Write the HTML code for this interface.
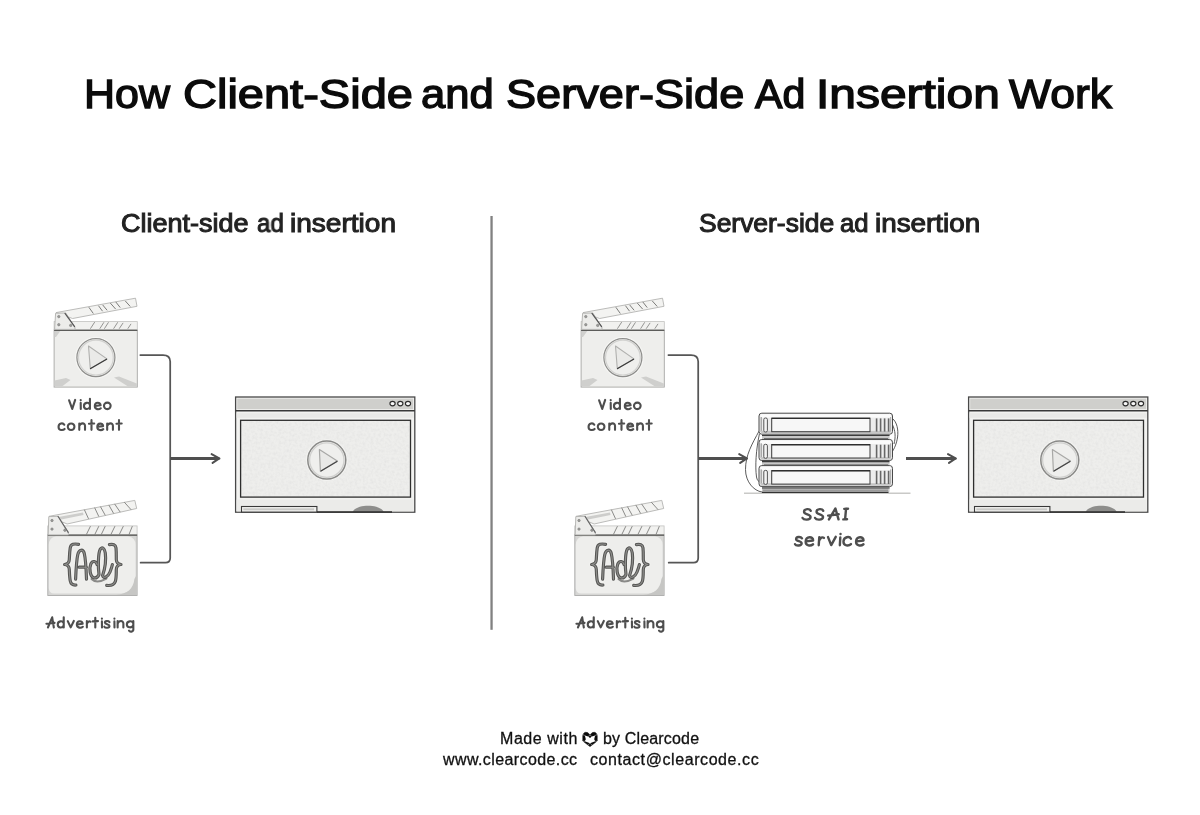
<!DOCTYPE html>
<html>
<head>
<meta charset="utf-8">
<style>
html,body{margin:0;padding:0;background:#fff;}
body{width:1200px;height:815px;position:relative;overflow:hidden;font-family:"Liberation Sans",sans-serif;}
.t{position:absolute;white-space:nowrap;line-height:1;will-change:transform;}
.tw{top:73.8px;font-size:40.5px;font-weight:400;color:#0b0b0b;-webkit-text-stroke:1.35px #0b0b0b;transform-origin:0 0;}
.sub{font-size:25px;font-weight:400;color:#222;-webkit-text-stroke:1.0px #222;top:211px;transform-origin:0 0;}
.ft{font-size:16px;color:#111;-webkit-text-stroke:0.3px #111;}
svg{position:absolute;left:0;top:0;}
</style>
</head>
<body>
<svg width="1200" height="815" viewBox="0 0 1200 815">
<defs>
  <filter id="noise" x="0" y="0" width="100%" height="100%">
    <feTurbulence type="fractalNoise" baseFrequency="0.38" numOctaves="2" seed="3" result="n"/>
    <feColorMatrix in="n" type="matrix" values="0 0 0 0 0.78  0 0 0 0 0.78  0 0 0 0 0.77  1.8 0 0 0 -0.66" result="a"/>
    <feComposite in="a" in2="SourceGraphic" operator="in" result="m"/>
    <feMerge><feMergeNode in="SourceGraphic"/><feMergeNode in="m"/></feMerge>
  </filter>

  <!-- ===== clapper: video ===== -->
  <g id="clapV">
    <!-- body -->
    <rect x="54.1" y="330" width="83.2" height="57.1" fill="#eeeeec" stroke="#a6a6a4" stroke-width="0.9"/>
    <!-- smudges -->
    <path d="M54.6 380.5 L66 378 L70.5 380 L62 386.6 L54.6 386.6 Z" fill="#cfcfcd"/>
    <path d="M114 377.5 L119 376.5 L136.8 383.5 L136.8 386.6 L128 386.6 Z" fill="#cfcfcd"/>
    <path d="M54.6 329.9 L61 329.9 L56 337 L54.6 337 Z" fill="#d0d0ce"/>
    <!-- lower stripe bar -->
    <rect x="54.1" y="321.6" width="83.2" height="8" fill="#f1f1ef" stroke="#c2c2c0" stroke-width="0.8"/>
    <line x1="54.1" y1="330.3" x2="137.3" y2="330.3" stroke="#5c5c5a" stroke-width="1.2"/>
    <g stroke="#8a8a88" stroke-width="0.9" stroke-linecap="round">
      <line x1="94.5" y1="322.4" x2="90.6" y2="328.4"/><line x1="103.7" y1="322.6" x2="100" y2="328.4"/>
      <line x1="108.3" y1="322.6" x2="104.6" y2="328.4"/><line x1="117.5" y1="322.6" x2="113.8" y2="328.4"/>
      <line x1="122.9" y1="323.2" x2="119.4" y2="328.4"/><line x1="130.8" y1="324.2" x2="128" y2="328.4"/>
    </g>
    <!-- upper arm -->
    <polygon points="56,312.6 135.5,298.2 137,306.3 72.6,318.5" fill="#f3f3f1" stroke="#b4b4b2" stroke-width="0.9" stroke-linejoin="round"/>
    <g stroke="#7c7c7a" stroke-width="1" stroke-linecap="round">
      <line x1="89.1" y1="307.6" x2="93.1" y2="313.2"/><line x1="98.7" y1="306" x2="102.3" y2="310.9"/>
      <line x1="102.9" y1="305.2" x2="106.9" y2="310"/><line x1="110.6" y1="303.4" x2="115.4" y2="308.8"/>
      <line x1="116" y1="302.2" x2="120" y2="307.3"/><line x1="125.5" y1="301.2" x2="130" y2="306.2"/>
    </g>
    <!-- hinge -->
    <polygon points="55.6,313.2 65.8,313 75,327.6 75,329.4 54.6,329.4" fill="#ececea" stroke="#b0b0ae" stroke-width="0.9" stroke-linejoin="round"/>
    <line x1="65" y1="313.4" x2="74.6" y2="326.6" stroke="#555" stroke-width="1.2" stroke-linecap="round"/>
    <g fill="#9c9c9a" stroke="#7a7a78" stroke-width="0.6"><circle cx="58.8" cy="316.6" r="1.2"/><circle cx="58.8" cy="324.7" r="1.2"/><circle cx="70.7" cy="325.4" r="1.2"/></g>
    <!-- play -->
    <circle cx="95.9" cy="357.6" r="20.2" fill="none" stroke="#f6f6f4" stroke-width="1.2"/>
    <circle cx="95.9" cy="357.6" r="19" fill="#efefed" stroke="#8e8e8c" stroke-width="1.2"/>
    <circle cx="95.9" cy="357.6" r="17.4" fill="none" stroke="#d2d2d0" stroke-width="1.2"/>
    <polygon points="88.5,346 106.9,358.9 90.3,368.7" fill="#eaeae8" stroke="#b0b0ae" stroke-width="1.1" stroke-linejoin="round"/>
    <line x1="90.6" y1="368.6" x2="106.6" y2="359.2" stroke="#3a3a3a" stroke-width="1.2" stroke-linecap="round"/>
  </g>

  <!-- ===== clapper: ad ===== -->
  <g id="clapA">
    <rect x="47.8" y="534.9" width="89.3" height="60.6" fill="#d6d6d4" stroke="#acacaa" stroke-width="0.9"/>
    <path d="M56 536.4 H128 Q135.4 537 135.6 545 V578 Q135 592 121 593.6 H54 Q48.8 593.4 48.8 588 V545 Q49 537 56 536.4 Z" fill="#eeeeec"/>
    <path d="M136.6 575 L136.6 595 L116 595 C127 594 133.4 589 134.4 579 Z" fill="#c6c6c4"/>
    <!-- lower stripe bar -->
    <rect x="47.8" y="525.9" width="89.3" height="9" fill="#f1f1ef" stroke="#c2c2c0" stroke-width="0.8"/>
    <line x1="47.8" y1="535.1" x2="137.1" y2="535.1" stroke="#4e4e4c" stroke-width="1.2"/>
    <g stroke="#858583" stroke-width="0.95" stroke-linecap="round">
      <line x1="90.3" y1="526.5" x2="86.4" y2="534.5"/><line x1="98.7" y1="526.5" x2="94.8" y2="534.5"/>
      <line x1="105.1" y1="526.5" x2="101.3" y2="534.5"/><line x1="114.8" y1="526.5" x2="110.9" y2="534.5"/>
      <line x1="123.2" y1="526.5" x2="119.3" y2="534.5"/><line x1="132.2" y1="526.5" x2="129" y2="534.5"/>
    </g>
    <!-- upper arm -->
    <polygon points="49.1,516.3 134.8,500.4 136.7,508.5 67.1,524" fill="#f3f3f1" stroke="#b4b4b2" stroke-width="0.9" stroke-linejoin="round"/>
    <path d="M57 517.2 L83 512.6 L83.5 515 L60 519.8 Z" fill="#cdcdcb"/>
    <g stroke="#858583" stroke-width="0.95" stroke-linecap="round">
      <line x1="84.5" y1="510" x2="88.4" y2="518.5"/><line x1="94.8" y1="508" x2="98.7" y2="516.3"/>
      <line x1="100.6" y1="506.9" x2="105.1" y2="515"/><line x1="109" y1="505.3" x2="113.5" y2="513.2"/>
      <line x1="114.8" y1="504.2" x2="120" y2="511.8"/><line x1="124.5" y1="502.4" x2="130.9" y2="509.5"/>
    </g>
    <!-- hinge -->
    <polygon points="48.8,516.6 58.1,516.3 68.4,532.4 68.4,534.9 48.2,534.9" fill="#ececea" stroke="#b0b0ae" stroke-width="0.9" stroke-linejoin="round"/>
    <line x1="58.1" y1="516.5" x2="68.2" y2="532.4" stroke="#666" stroke-width="1.2" stroke-linecap="round"/>
    <g fill="#9c9c9a" stroke="#7a7a78" stroke-width="0.6"><circle cx="52" cy="520.5" r="1.2"/><circle cx="52" cy="529.1" r="1.2"/><circle cx="64.9" cy="530.2" r="1.2"/></g>
    <!-- {Ad} -->
    <g id="adglyph" fill="none" stroke-linecap="round" stroke-linejoin="round">
      <g stroke="#f3f3f1" stroke-width="5" opacity="0.85">
        <path d="M78.6,544.3 C74,543.6 70.8,543.8 70.2,548 C69.6,552 69.5,556 69.3,559.5 C69.2,562.5 67,564.2 64.6,564.5 C67,564.8 69.2,566.5 69.3,569.5 C69.5,574 69.6,578 70.3,581 C71,584.6 73,585.2 75.9,585"/>
        <path d="M109.4,544.6 C113,544 115.6,544.4 116,548 C116.4,552 116.3,556 116.3,559.5 C116.4,562.5 118.6,564.2 121,564.5 C118.6,564.8 116.4,566.5 116.3,569.5 C116.2,574 116.4,578 115.4,581.2 C114.2,584.8 110.5,585.8 106.7,585.4"/>
        <path d="M75.6,579.1 C76,570 76.5,560 77.8,554.5 C79,549.5 83,548.5 84.3,553.5 C85.6,559 86.2,570 86.5,579.1 M79.2,567.2 L86.4,567.2"/>
        <path d="M97.1,564.6 C96.2,561 92.5,560.2 90.8,564 C89,568.5 90,576.5 93.8,577.8 C96.2,578.5 98,576.8 99,574.5 C98,568 98,553 100.3,549.2 C102,546.6 104.6,548 105.3,553 C106.2,560 104.5,570 102.6,575.6 C103.5,579 108,577 110,572 C111.2,569 112,566.5 112.4,564.5"/>
      </g>
      <path d="M91.5,579 C95,582.6 101,581.6 106.5,578.6" stroke="#8a8a88" stroke-width="2"/>
      <g stroke="#575755" stroke-width="3.2">
        <path d="M78.6,544.3 C74,543.6 70.8,543.8 70.2,548 C69.6,552 69.5,556 69.3,559.5 C69.2,562.5 67,564.2 64.6,564.5 C67,564.8 69.2,566.5 69.3,569.5 C69.5,574 69.6,578 70.3,581 C71,584.6 73,585.2 75.9,585"/>
        <path d="M109.4,544.6 C113,544 115.6,544.4 116,548 C116.4,552 116.3,556 116.3,559.5 C116.4,562.5 118.6,564.2 121,564.5 C118.6,564.8 116.4,566.5 116.3,569.5 C116.2,574 116.4,578 115.4,581.2 C114.2,584.8 110.5,585.8 106.7,585.4"/>
        <path d="M75.6,579.1 C76,570 76.5,560 77.8,554.5 C79,549.5 83,548.5 84.3,553.5 C85.6,559 86.2,570 86.5,579.1 M79.2,567.2 L86.4,567.2"/>
        <path d="M97.1,564.6 C96.2,561 92.5,560.2 90.8,564 C89,568.5 90,576.5 93.8,577.8 C96.2,578.5 98,576.8 99,574.5 C98,568 98,553 100.3,549.2 C102,546.6 104.6,548 105.3,553 C106.2,560 104.5,570 102.6,575.6 C103.5,579 108,577 110,572 C111.2,569 112,566.5 112.4,564.5"/>
      </g>
      <g stroke="#8e8e8c" stroke-width="1.1">
        <path d="M78.6,544.3 C74,543.6 70.8,543.8 70.2,548 C69.6,552 69.5,556 69.3,559.5 C69.2,562.5 67,564.2 64.6,564.5 C67,564.8 69.2,566.5 69.3,569.5 C69.5,574 69.6,578 70.3,581 C71,584.6 73,585.2 75.9,585"/>
        <path d="M109.4,544.6 C113,544 115.6,544.4 116,548 C116.4,552 116.3,556 116.3,559.5 C116.4,562.5 118.6,564.2 121,564.5 C118.6,564.8 116.4,566.5 116.3,569.5 C116.2,574 116.4,578 115.4,581.2 C114.2,584.8 110.5,585.8 106.7,585.4"/>
        <path d="M75.6,579.1 C76,570 76.5,560 77.8,554.5 C79,549.5 83,548.5 84.3,553.5 C85.6,559 86.2,570 86.5,579.1 M79.2,567.2 L86.4,567.2"/>
        <path d="M97.1,564.6 C96.2,561 92.5,560.2 90.8,564 C89,568.5 90,576.5 93.8,577.8 C96.2,578.5 98,576.8 99,574.5 C98,568 98,553 100.3,549.2 C102,546.6 104.6,548 105.3,553 C106.2,560 104.5,570 102.6,575.6 C103.5,579 108,577 110,572 C111.2,569 112,566.5 112.4,564.5"/>
      </g>
    </g>
  </g>

  <!-- ===== browser ===== -->
  <g id="browser">
    <rect x="235.6" y="397" width="179.2" height="115.2" fill="#f2f2f0" stroke="#484848" stroke-width="1.3"/>
    <rect x="237.2" y="398.6" width="176" height="10.6" fill="#cfcfcc"/>
    <line x1="235.6" y1="410.7" x2="414.8" y2="410.7" stroke="#383838" stroke-width="1.5"/>
    <rect x="236.6" y="413.2" width="177" height="4.6" fill="#e9e9e7"/>
    <rect x="236.6" y="499.5" width="177" height="11.8" fill="#ebebe9"/>
    <g fill="#f8f8f8" stroke="#2c2c2c" stroke-width="1.15">
      <ellipse cx="392.55" cy="403.6" rx="2.6" ry="2.25"/><ellipse cx="400.3" cy="403.6" rx="2.6" ry="2.25"/><ellipse cx="408" cy="403.6" rx="2.6" ry="2.25"/>
    </g>
    <rect x="240.6" y="420.3" width="169.9" height="76.8" fill="#eeeeec" filter="url(#noise)"/>
    <rect x="240.6" y="420.3" width="169.9" height="76.8" fill="none" stroke="#2e2e2e" stroke-width="1.3"/>
    <circle cx="326.8" cy="460.1" r="20.2" fill="none" stroke="#f4f4f2" stroke-width="1.2"/>
    <circle cx="326.8" cy="460.1" r="19" fill="#efefed" stroke="#8a8a88" stroke-width="1.5"/>
    <circle cx="326.8" cy="460.1" r="17.2" fill="none" stroke="#d0d0ce" stroke-width="1.3"/>
    <polygon points="319.4,449.6 337.3,461 320.4,471.3" fill="#e9e9e7" stroke="#a8a8a6" stroke-width="1.2" stroke-linejoin="round"/>
    <line x1="321" y1="471" x2="337" y2="461.4" stroke="#444" stroke-width="1.2" stroke-linecap="round"/>
    <rect x="241.5" y="506.5" width="75.4" height="5.6" fill="#f3f3f1" stroke="#383838" stroke-width="1.1"/><rect x="243.3" y="508.3" width="70.8" height="2" fill="#c9c9c7"/>
    <path d="M352.6 512 C356 503.5 380 503.5 383.8 512 Z" fill="#8d8d8b"/>
    <line x1="317" y1="512" x2="392" y2="512" stroke="#2e2e2e" stroke-width="1.7"/>
  </g>

  <!-- ===== server unit ===== -->
  <g id="unit">
    <rect x="759" y="413.2" width="133.5" height="21" rx="2.8" ry="2.8" fill="#ededed" stroke="#4a4a4a" stroke-width="1"/>
    <rect x="760.5" y="414.2" width="130.5" height="3.4" fill="#fbfbfb"/><line x1="761.2" y1="417" x2="761.2" y2="432" stroke="#8a8a8a" stroke-width="1"/><line x1="890.6" y1="417" x2="890.6" y2="432" stroke="#9a9a9a" stroke-width="0.8"/>
    <rect x="761" y="430.8" width="129.5" height="2.6" fill="#c6c6c6"/>
    <rect x="771.7" y="418.2" width="98.3" height="13.5" fill="#f7f7f7" stroke="#3a3a3a" stroke-width="1"/>
    <line x1="771.7" y1="418.4" x2="870" y2="418.4" stroke="#2e2e2e" stroke-width="1.4"/>
    <rect x="763.8" y="418" width="3.6" height="14" rx="1.5" ry="1.5" fill="#f4f4f4" stroke="#444" stroke-width="0.9"/>
    <g stroke="#666" stroke-width="1.6">
      <line x1="876.6" y1="418.4" x2="876.6" y2="431.6"/><line x1="880.6" y1="418.4" x2="880.6" y2="431.6"/>
      <line x1="884.6" y1="418.4" x2="884.6" y2="431.6"/><line x1="888.6" y1="418.4" x2="888.6" y2="431.6"/>
    </g>
    <!-- shadow band under unit -->
    <rect x="762" y="434.8" width="127.5" height="4.6" fill="#c8c8c8"/>
    <line x1="762" y1="435.4" x2="889.5" y2="435.4" stroke="#3c3c3c" stroke-width="1.2"/>
    <line x1="764" y1="438.6" x2="888" y2="438.6" stroke="#5a5a5a" stroke-width="0.9"/>
  </g>
</defs>

<!-- divider -->
<rect x="490.4" y="216" width="2.3" height="413.8" fill="#818181"/>

<use href="#clapV"/>
<use href="#clapA"/>
<use href="#browser"/>
<use href="#clapV" x="527"/>
<use href="#clapA" x="527"/>
<use href="#browser" x="733"/>

<!-- server stack -->
<line x1="744" y1="493.2" x2="910.5" y2="493.2" stroke="#c9c9c7" stroke-width="1.6"/>
<g fill="none" stroke="#4a4a4a" stroke-width="0.9">
  <path d="M759.4 430.5 C752 444 745.5 455 745.5 469.5 C745.5 482 754 491 762 492"/>
  <path d="M759.4 434 C756 450 755 466 756.5 477 C757.2 480.5 758.4 481.5 760 481.8"/>
  <path d="M892.4 418.5 C897 422 898.5 430 897.6 437 C896.6 444 894 449 892.4 451.5"/>
  <path d="M892.4 424.5 C895.5 431 895.8 437 894 444"/>
</g>
<use href="#unit"/>
<use href="#unit" y="26.3"/>
<use href="#unit" y="52.4"/>
<rect x="762" y="487.2" width="126.5" height="5.2" fill="#c4c4c4"/>
<line x1="762" y1="488" x2="888.5" y2="488" stroke="#3a3a3a" stroke-width="1.2"/>
<line x1="763" y1="490.2" x2="888" y2="490.2" stroke="#7a7a7a" stroke-width="0.8"/>
<line x1="762" y1="492.3" x2="888.5" y2="492.3" stroke="#333" stroke-width="1.2"/>

<!-- connectors left -->
<path d="M140.3 355 H163 Q170.2 355 170.2 361.5 V558 Q170.2 562.7 165.5 562.7 H140.6" fill="none" stroke="#565656" stroke-width="1.75" stroke-linecap="round"/>
<path d="M170 458.45 H218.6" fill="none" stroke="#4f4f4f" stroke-width="3"/><path d="M211.6 454.15 L219.3 458.45 L212.6 462.85" fill="none" stroke="#4f4f4f" stroke-width="2" stroke-linecap="round" stroke-linejoin="round"/><polygon points="214.7,456.55 220.2,457.95 220.2,459.35 214.7,460.45" fill="#4f4f4f"/>

<!-- connectors right -->
<path d="M668.4 355 H691 Q698.2 355 698.2 361.5 V558 Q698.2 562.7 693.5 562.7 H668.7" fill="none" stroke="#565656" stroke-width="1.75" stroke-linecap="round"/>
<path d="M698 458.45 H746.1999999999999" fill="none" stroke="#4f4f4f" stroke-width="3"/><path d="M739.2 454.15 L746.9 458.45 L740.2 462.85" fill="none" stroke="#4f4f4f" stroke-width="2" stroke-linecap="round" stroke-linejoin="round"/><polygon points="742.3,456.55 747.8,457.95 747.8,459.35 742.3,460.45" fill="#4f4f4f"/>
<path d="M906 458.45 H955.0" fill="none" stroke="#4f4f4f" stroke-width="3"/><path d="M948.0 454.15 L955.7 458.45 L949.0 462.85" fill="none" stroke="#4f4f4f" stroke-width="2" stroke-linecap="round" stroke-linejoin="round"/><polygon points="951.1,456.55 956.6,457.95 956.6,459.35 951.1,460.45" fill="#4f4f4f"/>

<!-- handwriting labels -->
<g fill="none" stroke="#4e4e4e" stroke-width="2.10" stroke-linecap="round" stroke-linejoin="round"><path vector-effect="non-scaling-stroke" transform="translate(68.95,409.15) scale(0.820)" d="M0.2,-10.8 L4,-0.3 L7.6,-11.3"/><path vector-effect="non-scaling-stroke" transform="translate(80.05,409.15) scale(0.820)" d="M0.8,-7.6 L0.9,-0.2 M0.8,-11.1 L0.8,-10.9"/><path vector-effect="non-scaling-stroke" transform="translate(83.95,409.15) scale(0.820)" d="M7,-5.8 C6,-8.6 0,-8.6 0,-3.8 C0,0.8 6,0.8 7.1,-2.6 M7.3,-12.6 L7.3,-0.2"/><path vector-effect="non-scaling-stroke" transform="translate(94.80,409.15) scale(0.820)" d="M0.4,-3.9 L7.1,-4.7 C7,-9 0,-9 0,-3.8 C0,0.7 5.2,0.8 7.3,-1.1"/><path vector-effect="non-scaling-stroke" transform="translate(103.95,409.15) scale(0.820)" d="M4.1,-8 C-1.3,-8 -1.3,0 4.1,0 C9.5,0 9.5,-8 4.1,-8 Z"/></g>
<g fill="none" stroke="#4e4e4e" stroke-width="2.10" stroke-linecap="round" stroke-linejoin="round"><path vector-effect="non-scaling-stroke" transform="translate(58.55,430.00) scale(0.820)" d="M7,-6.4 C5.5,-9 0,-8.6 0,-3.8 C0,0.8 5.5,0.8 7.4,-1.3"/><path vector-effect="non-scaling-stroke" transform="translate(67.75,430.00) scale(0.820)" d="M4.1,-8 C-1.3,-8 -1.3,0 4.1,0 C9.5,0 9.5,-8 4.1,-8 Z"/><path vector-effect="non-scaling-stroke" transform="translate(78.95,430.00) scale(0.820)" d="M0.4,-8 L0.4,-0.2 M0.4,-5 C2,-9 7.4,-9.2 7.4,-5 L7.4,-0.2"/><path vector-effect="non-scaling-stroke" transform="translate(88.95,430.00) scale(0.820)" d="M3.1,-12 L3.1,-0.2 M0,-7.6 L6.4,-7.9"/><path vector-effect="non-scaling-stroke" transform="translate(97.30,430.00) scale(0.820)" d="M0.4,-3.9 L7.1,-4.7 C7,-9 0,-9 0,-3.8 C0,0.7 5.2,0.8 7.3,-1.1"/><path vector-effect="non-scaling-stroke" transform="translate(106.85,430.00) scale(0.820)" d="M0.4,-8 L0.4,-0.2 M0.4,-5 C2,-9 7.4,-9.2 7.4,-5 L7.4,-0.2"/><path vector-effect="non-scaling-stroke" transform="translate(116.45,430.00) scale(0.820)" d="M3.1,-12 L3.1,-0.2 M0,-7.6 L6.4,-7.9"/></g>
<g fill="none" stroke="#4e4e4e" stroke-width="2.10" stroke-linecap="round" stroke-linejoin="round"><path vector-effect="non-scaling-stroke" transform="translate(46.45,627.65) scale(0.820)" d="M1.8,-0.2 L7,-12.6 L9,-0.2 M0,-4.8 L9.9,-5.8"/><path vector-effect="non-scaling-stroke" transform="translate(57.75,627.65) scale(0.820)" d="M7,-5.8 C6,-8.6 0,-8.6 0,-3.8 C0,0.8 6,0.8 7.1,-2.6 M7.3,-12.6 L7.3,-0.2"/><path vector-effect="non-scaling-stroke" transform="translate(67.75,627.65) scale(0.820)" d="M0,-8 L3.6,-0.3 L7.4,-8.2"/><path vector-effect="non-scaling-stroke" transform="translate(76.85,627.65) scale(0.820)" d="M0.4,-3.9 L7.1,-4.7 C7,-9 0,-9 0,-3.8 C0,0.7 5.2,0.8 7.3,-1.1"/><path vector-effect="non-scaling-stroke" transform="translate(86.45,627.65) scale(0.820)" d="M0.5,-8 L0.5,-0.2 M0.5,-4.5 C1.5,-7.5 3.5,-8.4 5,-7.2"/><path vector-effect="non-scaling-stroke" transform="translate(92.75,627.65) scale(0.820)" d="M3.1,-12 L3.1,-0.2 M0,-7.6 L6.4,-7.9"/><path vector-effect="non-scaling-stroke" transform="translate(101.25,627.65) scale(0.820)" d="M0.8,-7.6 L0.9,-0.2 M0.8,-11.1 L0.8,-10.9"/><path vector-effect="non-scaling-stroke" transform="translate(104.35,627.65) scale(0.820)" d="M6.3,-6.8 C5,-8.6 0.5,-8.5 0.7,-6 C0.9,-3.8 6.3,-4.4 6.3,-2 C6.3,0.6 1,0.6 0,-1.2"/><path vector-effect="non-scaling-stroke" transform="translate(113.75,627.65) scale(0.820)" d="M0.8,-7.6 L0.9,-0.2 M0.8,-11.1 L0.8,-10.9"/><path vector-effect="non-scaling-stroke" transform="translate(117.30,627.65) scale(0.820)" d="M0.4,-8 L0.4,-0.2 M0.4,-5 C2,-9 7.4,-9.2 7.4,-5 L7.4,-0.2"/><path vector-effect="non-scaling-stroke" transform="translate(126.85,627.65) scale(0.820)" d="M7.5,-5.8 C6.5,-8.6 0,-8.6 0,-3.8 C0,0.6 6.5,0.6 7.6,-3 M7.9,-8 L7.9,2.4 C7.9,5.4 3.5,5.4 2.6,3.6"/></g>
<g fill="none" stroke="#4e4e4e" stroke-width="2.10" stroke-linecap="round" stroke-linejoin="round"><path vector-effect="non-scaling-stroke" transform="translate(598.95,409.15) scale(0.820)" d="M0.2,-10.8 L4,-0.3 L7.6,-11.3"/><path vector-effect="non-scaling-stroke" transform="translate(610.05,409.15) scale(0.820)" d="M0.8,-7.6 L0.9,-0.2 M0.8,-11.1 L0.8,-10.9"/><path vector-effect="non-scaling-stroke" transform="translate(613.95,409.15) scale(0.820)" d="M7,-5.8 C6,-8.6 0,-8.6 0,-3.8 C0,0.8 6,0.8 7.1,-2.6 M7.3,-12.6 L7.3,-0.2"/><path vector-effect="non-scaling-stroke" transform="translate(624.80,409.15) scale(0.820)" d="M0.4,-3.9 L7.1,-4.7 C7,-9 0,-9 0,-3.8 C0,0.7 5.2,0.8 7.3,-1.1"/><path vector-effect="non-scaling-stroke" transform="translate(633.95,409.15) scale(0.820)" d="M4.1,-8 C-1.3,-8 -1.3,0 4.1,0 C9.5,0 9.5,-8 4.1,-8 Z"/></g>
<g fill="none" stroke="#4e4e4e" stroke-width="2.10" stroke-linecap="round" stroke-linejoin="round"><path vector-effect="non-scaling-stroke" transform="translate(588.55,430.00) scale(0.820)" d="M7,-6.4 C5.5,-9 0,-8.6 0,-3.8 C0,0.8 5.5,0.8 7.4,-1.3"/><path vector-effect="non-scaling-stroke" transform="translate(597.75,430.00) scale(0.820)" d="M4.1,-8 C-1.3,-8 -1.3,0 4.1,0 C9.5,0 9.5,-8 4.1,-8 Z"/><path vector-effect="non-scaling-stroke" transform="translate(608.95,430.00) scale(0.820)" d="M0.4,-8 L0.4,-0.2 M0.4,-5 C2,-9 7.4,-9.2 7.4,-5 L7.4,-0.2"/><path vector-effect="non-scaling-stroke" transform="translate(618.95,430.00) scale(0.820)" d="M3.1,-12 L3.1,-0.2 M0,-7.6 L6.4,-7.9"/><path vector-effect="non-scaling-stroke" transform="translate(627.30,430.00) scale(0.820)" d="M0.4,-3.9 L7.1,-4.7 C7,-9 0,-9 0,-3.8 C0,0.7 5.2,0.8 7.3,-1.1"/><path vector-effect="non-scaling-stroke" transform="translate(636.85,430.00) scale(0.820)" d="M0.4,-8 L0.4,-0.2 M0.4,-5 C2,-9 7.4,-9.2 7.4,-5 L7.4,-0.2"/><path vector-effect="non-scaling-stroke" transform="translate(646.45,430.00) scale(0.820)" d="M3.1,-12 L3.1,-0.2 M0,-7.6 L6.4,-7.9"/></g>
<g fill="none" stroke="#4e4e4e" stroke-width="2.10" stroke-linecap="round" stroke-linejoin="round"><path vector-effect="non-scaling-stroke" transform="translate(576.45,627.65) scale(0.820)" d="M1.8,-0.2 L7,-12.6 L9,-0.2 M0,-4.8 L9.9,-5.8"/><path vector-effect="non-scaling-stroke" transform="translate(587.75,627.65) scale(0.820)" d="M7,-5.8 C6,-8.6 0,-8.6 0,-3.8 C0,0.8 6,0.8 7.1,-2.6 M7.3,-12.6 L7.3,-0.2"/><path vector-effect="non-scaling-stroke" transform="translate(597.75,627.65) scale(0.820)" d="M0,-8 L3.6,-0.3 L7.4,-8.2"/><path vector-effect="non-scaling-stroke" transform="translate(606.85,627.65) scale(0.820)" d="M0.4,-3.9 L7.1,-4.7 C7,-9 0,-9 0,-3.8 C0,0.7 5.2,0.8 7.3,-1.1"/><path vector-effect="non-scaling-stroke" transform="translate(616.45,627.65) scale(0.820)" d="M0.5,-8 L0.5,-0.2 M0.5,-4.5 C1.5,-7.5 3.5,-8.4 5,-7.2"/><path vector-effect="non-scaling-stroke" transform="translate(622.75,627.65) scale(0.820)" d="M3.1,-12 L3.1,-0.2 M0,-7.6 L6.4,-7.9"/><path vector-effect="non-scaling-stroke" transform="translate(631.25,627.65) scale(0.820)" d="M0.8,-7.6 L0.9,-0.2 M0.8,-11.1 L0.8,-10.9"/><path vector-effect="non-scaling-stroke" transform="translate(634.35,627.65) scale(0.820)" d="M6.3,-6.8 C5,-8.6 0.5,-8.5 0.7,-6 C0.9,-3.8 6.3,-4.4 6.3,-2 C6.3,0.6 1,0.6 0,-1.2"/><path vector-effect="non-scaling-stroke" transform="translate(643.75,627.65) scale(0.820)" d="M0.8,-7.6 L0.9,-0.2 M0.8,-11.1 L0.8,-10.9"/><path vector-effect="non-scaling-stroke" transform="translate(647.30,627.65) scale(0.820)" d="M0.4,-8 L0.4,-0.2 M0.4,-5 C2,-9 7.4,-9.2 7.4,-5 L7.4,-0.2"/><path vector-effect="non-scaling-stroke" transform="translate(656.85,627.65) scale(0.820)" d="M7.5,-5.8 C6.5,-8.6 0,-8.6 0,-3.8 C0,0.6 6.5,0.6 7.6,-3 M7.9,-8 L7.9,2.4 C7.9,5.4 3.5,5.4 2.6,3.6"/></g>
<g fill="none" stroke="#4e4e4e" stroke-width="2.40" stroke-linecap="round" stroke-linejoin="round"><path vector-effect="non-scaling-stroke" transform="translate(802.45,519.60) skewX(-4) scale(1.040)" d="M7.4,-8.4 C6.4,-10.8 0.9,-10.6 1,-7.6 C1.2,-4.6 7.6,-5.4 7.6,-2.4 C7.6,0.7 1.3,0.6 0,-1.6"/><path vector-effect="non-scaling-stroke" transform="translate(814.95,519.60) skewX(-4) scale(1.040)" d="M7.4,-8.4 C6.4,-10.8 0.9,-10.6 1,-7.6 C1.2,-4.6 7.6,-5.4 7.6,-2.4 C7.6,0.7 1.3,0.6 0,-1.6"/><path vector-effect="non-scaling-stroke" transform="translate(827.90,519.60) skewX(-4) scale(1.040)" d="M1,-0.2 L6.5,-10.7 L10.2,-0.2 M0,-3.8 L10,-5.2"/><path vector-effect="non-scaling-stroke" transform="translate(843.20,519.60) skewX(-4) scale(1.040)" d="M2,-10.4 L1.8,-0.2 M0.3,-10.3 L3.9,-10.5 M0.1,-0.2 L3.7,-0.3"/></g>
<g fill="none" stroke="#4e4e4e" stroke-width="2.40" stroke-linecap="round" stroke-linejoin="round"><path vector-effect="non-scaling-stroke" transform="translate(794.95,545.40) skewX(-4) scale(1.040)" d="M6.3,-6.8 C5,-8.6 0.5,-8.5 0.7,-6 C0.9,-3.8 6.3,-4.4 6.3,-2 C6.3,0.6 1,0.6 0,-1.2"/><path vector-effect="non-scaling-stroke" transform="translate(805.40,545.40) skewX(-4) scale(1.040)" d="M0.4,-3.9 L7.1,-4.7 C7,-9 0,-9 0,-3.8 C0,0.7 5.2,0.8 7.3,-1.1"/><path vector-effect="non-scaling-stroke" transform="translate(818.20,545.40) skewX(-4) scale(1.040)" d="M0.5,-8 L0.5,-0.2 M0.5,-4.5 C1.5,-7.5 3.5,-8.4 5,-7.2"/><path vector-effect="non-scaling-stroke" transform="translate(827.45,545.40) skewX(-4) scale(1.040)" d="M0,-8 L3.6,-0.3 L7.4,-8.2"/><path vector-effect="non-scaling-stroke" transform="translate(838.90,545.40) skewX(-4) scale(1.040)" d="M0.8,-7.6 L0.9,-0.2 M0.8,-11.1 L0.8,-10.9"/><path vector-effect="non-scaling-stroke" transform="translate(843.20,545.40) skewX(-4) scale(1.040)" d="M7,-6.4 C5.5,-9 0,-8.6 0,-3.8 C0,0.8 5.5,0.8 7.4,-1.3"/><path vector-effect="non-scaling-stroke" transform="translate(855.80,545.40) skewX(-4) scale(1.040)" d="M0.4,-3.9 L7.1,-4.7 C7,-9 0,-9 0,-3.8 C0,0.7 5.2,0.8 7.3,-1.1"/></g>

<!-- heart -->
<g>
  <path d="M583.2,734.2 L584.3,732.8 L585.7,732.3 L587.5,732.6 L588.6,733.4 L590,734.8 L591.4,733.4 L592.5,732.6 L594.3,732.3 L595.7,732.8 L596.8,734.2 L597.2,735.7 L597.2,741 L590,746.6 L582.8,741 L582.8,735.7 Z" fill="#0c0c0c" stroke="#0c0c0c" stroke-width="0.6" stroke-linejoin="round"/>
  <path d="M584.9,735.5 L588.2,736.5 L590,738 L591.8,736.5 L595.1,735.5 L594.2,739.3 L595.2,741.3 L590,743.2 L584.8,741.3 L585.8,739.3 Z" fill="#fff"/>
  <g stroke="#fff" stroke-width="0.45" stroke-linecap="butt">
    <line x1="584.9" y1="735.5" x2="582.9" y2="734.7"/><line x1="595.1" y1="735.5" x2="597.1" y2="734.7"/>
    <line x1="584.8" y1="741.3" x2="582.9" y2="741.2"/><line x1="595.2" y1="741.3" x2="597.1" y2="741.2"/>
    <line x1="588.2" y1="736.5" x2="590" y2="734.9"/><line x1="591.8" y1="736.5" x2="590" y2="734.9"/>
    <line x1="590" y1="743.2" x2="588.1" y2="744.9"/><line x1="590" y1="743.2" x2="591.9" y2="744.9"/>
  </g>
</g>
</svg>

<div class="t tw" style="left:84.32px;transform:scaleX(1.0601);">How</div>
<div class="t tw" style="left:182.59px;transform:scaleX(1.1607);">Client-Side</div>
<div class="t tw" style="left:421.42px;transform:scaleX(1.0769);">and</div>
<div class="t tw" style="left:506.39px;transform:scaleX(1.1144);">Server-Side</div>
<div class="t tw" style="left:755.00px;transform:scaleX(1.0156);">Ad</div>
<div class="t tw" style="left:816.45px;transform:scaleX(1.1833);">Insertion</div>
<div class="t tw" style="left:1008.75px;transform:scaleX(1.0984);">Work</div>
<div class="t sub" style="left:121.42px;transform:scaleX(1.0791);">Client-side</div>
<div class="t sub" style="left:256.54px;transform:scaleX(0.9615);">ad</div>
<div class="t sub" style="left:290.13px;transform:scaleX(1.1223);">insertion</div>
<div class="t sub" style="left:699.44px;transform:scaleX(1.0575);">Server-side</div>
<div class="t sub" style="left:840.22px;transform:scaleX(1.0288);">ad</div>
<div class="t sub" style="left:875.14px;transform:scaleX(1.1141);">insertion</div>

<div class="t ft" style="left:500px;top:731px;letter-spacing:0.55px;">Made with</div>
<div class="t ft" style="left:602.8px;top:731px;letter-spacing:0.16px;">by Clearcode</div>
<div class="t ft" style="left:442.8px;top:752px;letter-spacing:0.4px;">www.clearcode.cc</div>
<div class="t ft" style="left:589.5px;top:752px;letter-spacing:0.58px;">contact@clearcode.cc</div>
</body>
</html>
